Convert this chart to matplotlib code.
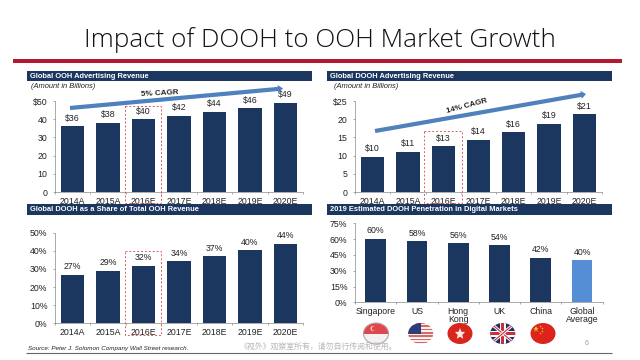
import matplotlib
matplotlib.use("Agg")
import matplotlib.pyplot as plt
from matplotlib.patches import Rectangle, FancyArrow, Ellipse, Polygon

plt.rcParams['font.family'] = ['Liberation Sans', 'DejaVu Sans']

W, H = 640, 360
NAVY = "#1b365f"
BLUE = "#558ed5"
ARROW = "#4f81bd"
RED = "#b5182f"
TXT = "#222222"

years = ["2014A", "2015A", "2016E", "2017E", "2018E", "2019E", "2020E"]
ooh_rev = [36, 38, 40, 42, 44, 46, 49]
dooh_rev = [9.7, 11, 12.6, 14.4, 16.4, 18.7, 21.3]
dooh_labels = ["$10", "$11", "$13", "$14", "$16", "$19", "$21"]
share = [26.7, 29, 31.6, 34.2, 37, 40.3, 43.8]
share_labels = ["27%", "29%", "32%", "34%", "37%", "40%", "44%"]
markets = ["Singapore", "US", "Hong\nKong", "UK", "China", "Global\nAverage"]
penetration = [60, 58, 56, 54, 42, 40]
pen_labels = ["60%", "58%", "56%", "54%", "42%", "40%"]

fig = plt.figure(figsize=(W / 100, H / 100), dpi=100, facecolor="white")

# pixel-space overlay for slide furniture
ov = fig.add_axes([0, 0, 1, 1], zorder=5)
ov.set_xlim(0, W)
ov.set_ylim(H, 0)
ov.axis("off")


def make_axes(x0, x1, ytop, ybot, ymax, ticks, ticklabels, cats, vals, labels,
              colors=None, fs=6.3):
    ax = fig.add_axes([x0 / W, 1 - ybot / H, (x1 - x0) / W, (ybot - ytop) / H], zorder=2)
    pos = list(range(len(cats)))
    ax.bar(pos, vals, width=0.66 if len(cats) == 7 else 0.5, color=colors or NAVY, zorder=2)
    ax.set_xlim(-0.5, len(cats) - 0.5)
    ax.set_ylim(0, ymax)
    ax.set_yticks(ticks)
    ax.set_yticklabels(ticklabels, fontsize=fs, color=TXT)
    ax.set_xticks(pos)
    ax.set_xticklabels(cats, fontsize=fs, color=TXT, linespacing=0.9)
    ax.set_xticks([p - 0.5 for p in pos] + [len(cats) - 0.5], minor=True)
    ax.tick_params(axis="x", which="major", length=0, pad=3.5)
    ax.tick_params(axis="x", which="minor", length=1.5, width=0.5, color="#888888")
    ax.tick_params(axis="y", length=1.5, width=0.5, color="#888888", pad=4)
    for s in ("top", "right"):
        ax.spines[s].set_visible(False)
    for s in ("left", "bottom"):
        ax.spines[s].set_linewidth(0.5)
        ax.spines[s].set_color("#888888")
    for p, v, l in zip(pos, vals, labels):
        ax.annotate(l, (p, v), xytext=(0, 2.6), textcoords="offset points",
                    ha="center", va="bottom", fontsize=fs, color=TXT)
    return ax


make_axes(55, 303, 101, 192, 50, [0, 10, 20, 30, 40, 50],
          ["0", "10", "20", "30", "40", "$50"], years, ooh_rev,
          [f"${v}" for v in ooh_rev])
make_axes(355, 602, 101, 192, 25, [0, 5, 10, 15, 20, 25],
          ["0", "5", "10", "15", "20", "$25"], years, dooh_rev, dooh_labels)
make_axes(55, 303, 232.7, 323.3, 50, [0, 10, 20, 30, 40, 50],
          ["0%", "10%", "20%", "30%", "40%", "50%"], years, share, share_labels)
make_axes(355, 602.7, 223.3, 302.3, 75, [0, 15, 30, 45, 60, 75],
          ["0%", "15%", "30%", "45%", "60%", "75%"], markets, penetration, pen_labels,
          colors=[NAVY] * 5 + [BLUE])

# title and rule
ov.text(320, 40.5, "Impact of DOOH to OOH Market Growth", ha="center", va="center",
        fontsize=18.8, color="#111111", family="Open Sans", fontweight="light")
ov.add_patch(Rectangle((13, 59), 609, 4, color=RED, lw=0))

# panel headers
for x0, x1, y0, t in [
    (26.5, 311.5, 70.7, "Global OOH Advertising Revenue"),
    (326.5, 611.5, 70.7, "Global DOOH Advertising Revenue"),
    (26.5, 311.5, 204.3, "Global DOOH as a Share of Total OOH Revenue"),
    (327, 612, 204.3, "2019 Estimated DOOH Penetration in Digital Markets"),
]:
    ov.add_patch(Rectangle((x0, y0), x1 - x0, 10.5, color=NAVY, lw=0))
    ov.text(x0 + 3, y0 + 5.4, t, color="white", fontsize=5.4, fontweight="bold",
            ha="left", va="center")

ov.text(31, 87, "(Amount in Billions)", fontsize=5.4, style="italic", color=TXT, va="center")
ov.text(334, 87, "(Amount in Billions)", fontsize=5.4, style="italic", color=TXT, va="center")

# CAGR arrows
for (xa, ya, xb, yb) in [(70, 108, 283, 88.5), (375, 131, 586, 94)]:
    ov.add_patch(FancyArrow(xa, ya, xb - xa, yb - ya, width=4.2, head_width=8,
                            head_length=5, length_includes_head=True, color=ARROW, lw=0))
ov.text(160, 93.5, "5% CAGR", fontsize=5.8, fontweight="bold", rotation=3,
        ha="center", va="center", color=TXT, rotation_mode="anchor")
ov.text(467, 106, "14% CAGR", fontsize=5.8, fontweight="bold", rotation=15,
        ha="center", va="center", color=TXT, rotation_mode="anchor")

# dashed highlight boxes around 2016E
for (x0, y0, x1, y1) in [(124.7, 106.3, 161.3, 203), (424.3, 131, 461.7, 203),
                         (124.7, 251, 161.3, 335)]:
    ov.add_patch(Rectangle((x0, y0), x1 - x0, y1 - y0, fill=False, ec="#d9605f",
                           lw=0.7, ls=(0, (2, 2)), zorder=6))

# footer
ov.text(28, 348.3, "Source: Peter J. Solomon Company Wall Street research.", fontsize=4.5,
        style="italic", color=TXT, va="center")
ov.plot([26, 612], [353.3, 353.3], color="#666666", lw=0.8, solid_capstyle="butt")
ov.text(240, 346.7, "《视外》观察室所有，请勿自行传阅和使用。", fontsize=5.7, color="#b8b8b8",
        va="center", family=["Noto Sans CJK SC", "DejaVu Sans"])
ov.text(587, 343.5, "6", fontsize=5, color="#999999", ha="center", va="center")

# flags
CY = 333.5
RX, RY = 12.5, 10.5


def flag_clip(cx):
    return Ellipse((cx, CY), 2 * RX, 2 * RY, transform=ov.transData)


def add(cx, art):
    art.set_clip_path(flag_clip(cx))
    ov.add_artist(art)


def rect(cx, dx, y, w, h, color):
    add(cx, Rectangle((cx + dx, y), w, h, color=color, lw=0))


# Singapore
cx = 376
rect(cx, -13, 322, 26, 11.5, "#e0464a")
rect(cx, -13, 333.5, 26, 11, "#f4f1f1")
ov.add_patch(Ellipse((cx, CY), 2 * RX, 2 * RY, fill=False, ec="#b5a3a3", lw=0.8))
ov.add_patch(Ellipse((cx - 3, 328.5), 5, 5, color="#f6e2e2", lw=0))
ov.add_patch(Ellipse((cx - 2, 328.5), 4.5, 4.5, color="#e0464a", lw=0))

# US
cx = 420.7
for i in range(7):
    rect(cx, -13, 322 + i * 3.3, 26, 1.65, "#d9686a")
    rect(cx, -13, 323.65 + i * 3.3, 26, 1.65, "#f3f0f0")
rect(cx, -13, 322, 13, 11.5, "#2c3e78")

# Hong Kong
cx = 460
rect(cx, -13, 322, 26, 23, "#d8261c")
ov.add_patch(Polygon([(cx, 328), (cx + 1.3, 331.7), (cx + 5, 332), (cx + 2.3, 335),
                      (cx + 3.2, 338.8), (cx, 336.8), (cx - 3.2, 338.8), (cx - 2.3, 335),
                      (cx - 5, 332), (cx - 1.3, 331.7)],
                     color="#f7e8e4", lw=0, zorder=7))

# UK
cx = 502.7
rect(cx, -13, 322, 26, 23, "#232f63")
for (a, b, c, d) in [(-13, -11, 13, 11), (-13, 11, 13, -11)]:
    l, = ov.plot([cx + a, cx + c], [CY + b, CY + d], color="white", lw=2.2)
    l.set_clip_path(flag_clip(cx))
    l, = ov.plot([cx + a, cx + c], [CY + b, CY + d], color="#c8303a", lw=0.8)
    l.set_clip_path(flag_clip(cx))
rect(cx, -13, 330.5, 26, 6, "white")
rect(cx, -3, 322, 6, 23, "white")
rect(cx, -13, 331.8, 26, 3.4, "#c8303a")
rect(cx, -1.7, 322, 3.4, 23, "#c8303a")

# China
cx = 543
rect(cx, -13, 322, 26, 23, "#dc241c")
ov.plot([cx - 7], [329], marker="*", ms=5, color="#f0c030", mew=0)
for dx, dy in [(-3, 325.5), (-1.5, 327.5), (-1.5, 330.5), (-3, 332.5)]:
    ov.plot([cx + dx], [dy], marker="*", ms=1.8, color="#f0c030", mew=0)
ov.set_xlim(0, W)
ov.set_ylim(H, 0)

fig.savefig("out.png", dpi=100)
